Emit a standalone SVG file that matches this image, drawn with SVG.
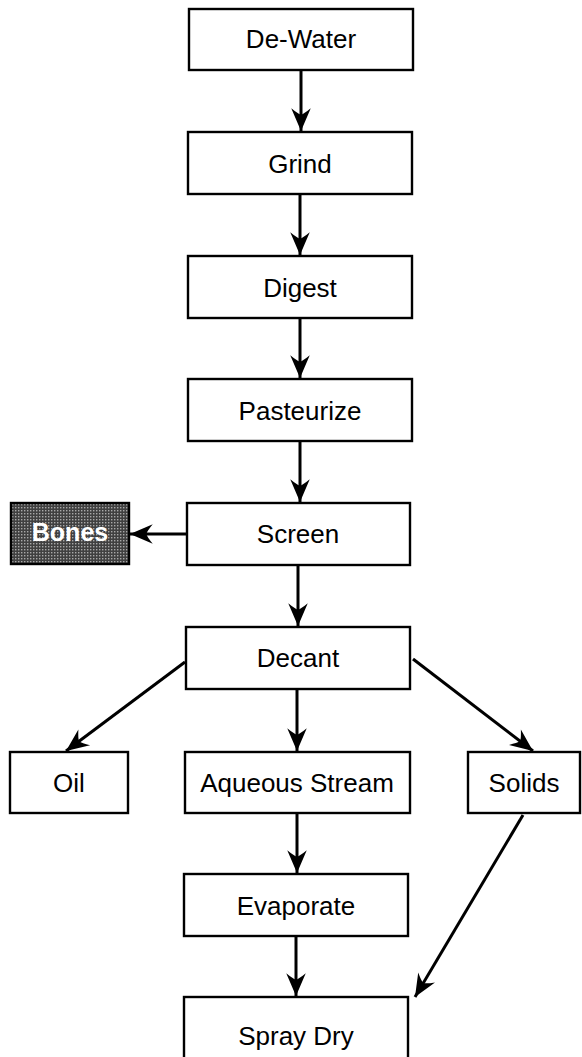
<svg xmlns="http://www.w3.org/2000/svg" width="582" height="1057" viewBox="0 0 582 1057">
<defs>
<style>
.box{fill:#fff;stroke:#000;stroke-width:2.4}
.lbl{font-family:"Liberation Sans",Arial,sans-serif;font-size:26px;fill:#000;text-anchor:middle}
.edge{stroke:#000;stroke-width:3;fill:none;marker-end:url(#ah)}
.dark{fill:url(#halftone);stroke:#000;stroke-width:2.4}
.blbl{font-family:"Liberation Sans",Arial,sans-serif;font-size:25px;font-weight:bold;fill:#fff;text-anchor:middle}
</style>
<marker id="ah" markerUnits="userSpaceOnUse" markerWidth="26" markerHeight="24" viewBox="-23 -11 24 22" refX="0" refY="0" orient="auto">
<path d="M0,0 L-21,-9 Q-16,-3 -15,0 Q-16,3 -21,9 Z" fill="#000"/>
</marker>
<pattern id="halftone" patternUnits="userSpaceOnUse" width="3" height="3">
<rect width="3" height="3" fill="#404040"/>
<rect x="0" y="0" width="1.4" height="1.4" fill="#a8a8a8"/>
</pattern>
</defs>
<rect width="582" height="1057" fill="#fff"/>
<g id="connectors">
<line class="edge" x1="301" y1="70" x2="301" y2="131"/>
<line class="edge" x1="300" y1="194" x2="300" y2="255"/>
<line class="edge" x1="300" y1="318" x2="300" y2="378"/>
<line class="edge" x1="300" y1="441" x2="300" y2="502"/>
<line class="edge" x1="187" y1="534" x2="130" y2="534"/>
<line class="edge" x1="298" y1="565" x2="298" y2="626"/>
<line class="edge" x1="297" y1="689" x2="297" y2="751"/>
<line class="edge" x1="185" y1="662" x2="66" y2="751"/>
<line class="edge" x1="413" y1="659" x2="533" y2="751"/>
<line class="edge" x1="297" y1="813" x2="297" y2="873"/>
<line class="edge" x1="296" y1="936" x2="296" y2="996"/>
<line class="edge" x1="523" y1="815" x2="415" y2="997"/>
</g>
<g id="n-dewater"><rect class="box" x="189" y="9" width="224" height="61"/><text class="lbl" x="301" y="48">De-Water</text></g>
<g id="n-grind"><rect class="box" x="188" y="132" width="224" height="62"/><text class="lbl" x="300" y="173">Grind</text></g>
<g id="n-digest"><rect class="box" x="188" y="256" width="224" height="62"/><text class="lbl" x="300" y="297">Digest</text></g>
<g id="n-pasteurize"><rect class="box" x="188" y="379" width="224" height="62"/><text class="lbl" x="300" y="420">Pasteurize</text></g>
<g id="n-screen"><rect class="box" x="187" y="503" width="223" height="62"/><text class="lbl" x="298" y="543">Screen</text></g>
<g id="n-bones"><rect class="dark" x="11" y="503" width="118" height="61"/><text class="blbl" x="70" y="541">Bones</text></g>
<g id="n-decant"><rect class="box" x="186" y="627" width="224" height="62"/><text class="lbl" x="298" y="667">Decant</text></g>
<g id="n-oil"><rect class="box" x="10" y="752" width="118" height="61"/><text class="lbl" x="69" y="792">Oil</text></g>
<g id="n-aqueous"><rect class="box" x="185" y="752" width="225" height="61"/><text class="lbl" x="297" y="792">Aqueous Stream</text></g>
<g id="n-solids"><rect class="box" x="468" y="752" width="112" height="61"/><text class="lbl" x="524" y="792">Solids</text></g>
<g id="n-evaporate"><rect class="box" x="184" y="874" width="224" height="62"/><text class="lbl" x="296" y="915">Evaporate</text></g>
<g id="n-spraydry"><rect class="box" x="184" y="997" width="224" height="64"/><text class="lbl" x="296" y="1045">Spray Dry</text></g>
</svg>
